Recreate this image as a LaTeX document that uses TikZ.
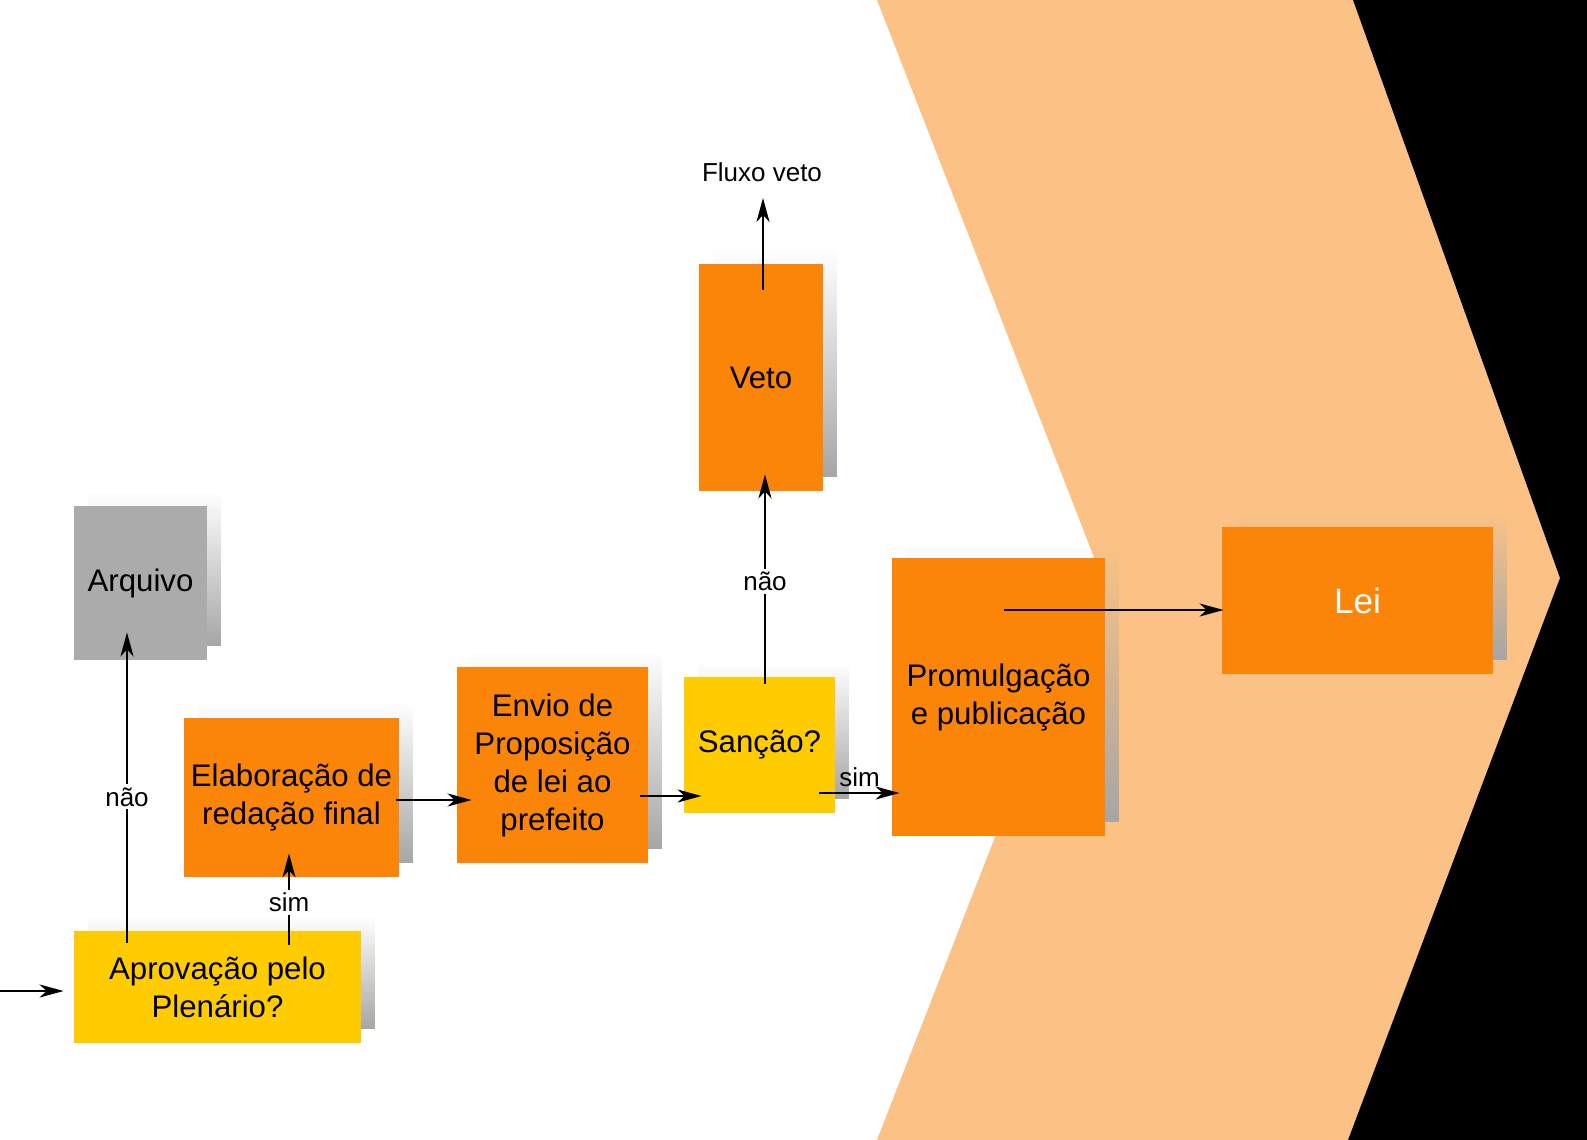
\documentclass[tikz,border=0pt]{standalone}
\usepackage{fontspec}
\setmainfont{Liberation Sans}
\usetikzlibrary{arrows.meta,calc,shadows,fadings}

\definecolor{laranja}{HTML}{FB8508}
\definecolor{amarelo}{HTML}{FECC00}
\definecolor{cinza}{HTML}{ABABAB}
\definecolor{pessego}{HTML}{FCC285}

\tikzset{
  etapa/.style={rectangle, inner sep=2pt, align=center,
    font=\fontsize{15.6}{19}\selectfont,
    general shadow={fill=black!35, shadow xshift=7pt, shadow yshift=7pt, path fading=north}},
  seta/.style={-{Stealth[length=12pt,width=6.5pt,inset=3.5pt]}, line width=1.3pt},
  rotulo/.style={font=\fontsize{13}{15}\selectfont, fill=white, inner sep=1.5pt},
}

\begin{document}
\begin{tikzpicture}[x=0.5pt,y=-0.5pt]
	\useasboundingbox (0,0) rectangle (1587,1140);
	\fill[white] (0,0) rectangle (1587,1140);

	% seta de fundo
	\fill[pessego] (877,0) -- (1353,0) -- (1560,578) -- (1348,1140) -- (877,1140) -- (1099,570) -- cycle;
	\fill[black] (1353,0) -- (1587,0) -- (1587,1140) -- (1348,1140) -- (1560,578) -- cycle;

	% etapas
	\node[etapa, fill=cinza, minimum width=66.5pt, minimum height=77pt] (arq) at (140.5,583) {Arquivo};
	\node[etapa, fill=laranja, minimum width=107.5pt, minimum height=79.5pt] (elab) at (291.5,797.5) {Elaboração de\\redação final};
	\node[etapa, fill=amarelo, minimum width=143.5pt, minimum height=56pt] (aprov) at (217.5,987) {Aprovação pelo\\Plenário?};
	\node[etapa, fill=laranja, minimum width=95.5pt, minimum height=98pt] (envio) at (552.5,765) {Envio de\\Proposição\\de lei ao\\prefeito};
	\node[etapa, fill=amarelo, minimum width=75.5pt, minimum height=68pt] (sancao) at (759.5,745) {Sanção?};
	\node[etapa, fill=laranja, minimum width=62pt, minimum height=113.5pt] (veto) at (761,377.5) {Veto};
	\node[etapa, fill=laranja, minimum width=106.5pt, minimum height=139pt] (promul) at (998.5,697) {Promulgação\\e publicação};
	\node[etapa, fill=laranja, minimum width=135.5pt, minimum height=73.5pt, text=white, font=\fontsize{17.6}{20}\selectfont] (lei) at (1357.5,600.5) {Lei};
	\node[font=\fontsize{13}{15}\selectfont, inner sep=0pt] (fluxo) at (762,172) {Fluxo veto};
	\coordinate (entrada) at (0,991);

	% conexoes
	\draw[seta] (entrada) -- ($(aprov.west)+(-5pt,-2pt)$);
	\draw[seta] ($(arq.south |- aprov.north)+(-6.75pt,-6pt)$) -- node[rotulo, pos=0.47] {não} ($(arq.south)+(-6.75pt,14pt)$);
	\draw[seta] ($(elab.south |- aprov.north)+(-1.25pt,-7pt)$) -- node[rotulo, pos=0.46] {sim} ($(elab.south)+(-1.25pt,12pt)$);
	\draw[seta] ($(elab.east)+(-1.5pt,-1.25pt)$) -- ($(elab.east -| envio.west)+(7.5pt,-1.25pt)$);
	\draw[seta] ($(envio.east)+(-4pt,-15.5pt)$) -- ($(envio.east -| sancao.west)+(9pt,-15.5pt)$);
	\draw[seta] ($(sancao.north)+(2.75pt,-3.5pt)$) -- node[rotulo, pos=0.49] {não} ($(sancao.north |- veto.south)+(2.75pt,8.5pt)$);
	\draw[seta] ($(veto.north)+(1pt,-13pt)$) -- ($(veto.north |- fluxo.south)+(1pt,-8pt)$);
	\draw[seta] ($(sancao.east)+(-8pt,-24pt)$) -- node[rotulo, fill=none, above, yshift=1pt] {sim} ($(sancao.east -| promul.west)+(4pt,-24pt)$);
	\draw[seta] ($(promul.center |- lei.west)+(2.75pt,-4.75pt)$) -- ($(lei.west)+(1pt,-4.75pt)$);
\end{tikzpicture}
\end{document}
